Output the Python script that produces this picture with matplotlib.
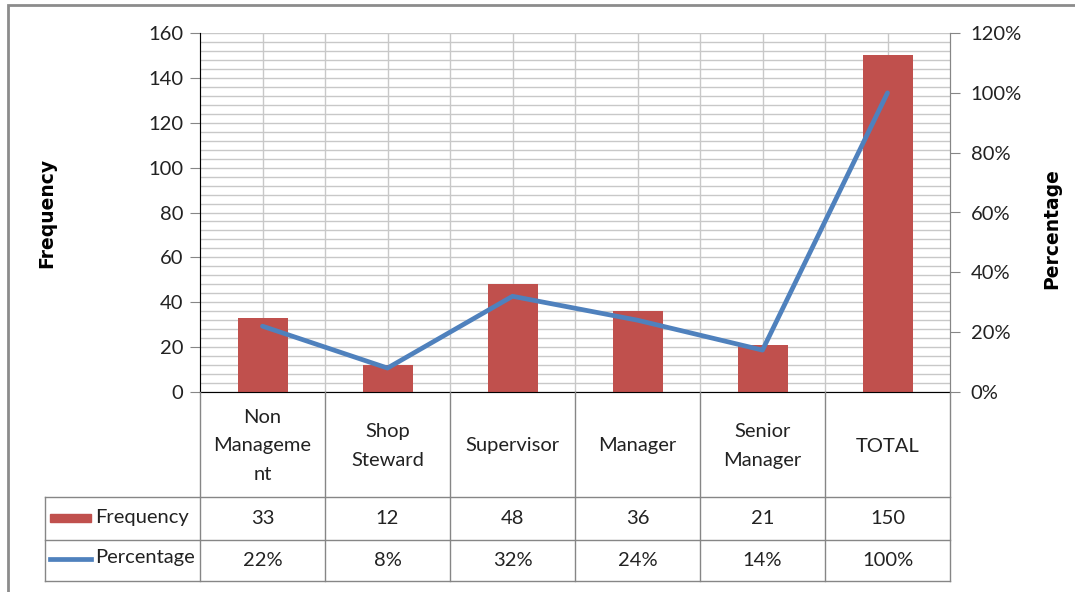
import matplotlib
matplotlib.use("Agg")
import matplotlib.pyplot as plt
from matplotlib.patches import Rectangle
from matplotlib.lines import Line2D
from matplotlib.ticker import MultipleLocator, FuncFormatter

# ── data ──────────────────────────────────────────────────────────────────────
categories = ["Non\nManageme\nnt", "Shop\nSteward", "Supervisor",
              "Manager", "Senior\nManager", "TOTAL"]
frequency = [33, 12, 48, 36, 21, 150]
percentage = [0.22, 0.08, 0.32, 0.24, 0.14, 1.00]

BAR_C = "#C0504D"
LINE_C = "#4F81BD"
GRID_C = "#C8C8C8"
AX_C = "#868686"
FONT = "Lato"
FS = 14.5

W, H = 1075, 592
fig = plt.figure(figsize=(W / 100, H / 100), dpi=100)

def box(l, t, r, b):
    # pixel box -> figure fraction [left, bottom, width, height]
    return [l / W, 1 - b / H, (r - l) / W, (b - t) / H]

# outer frame (only left/top visible in the crop)
fig.add_artist(Rectangle((8 / W, -0.1), 1.2, 1 - 5 / H + 0.1,
                         transform=fig.transFigure, fill=False,
                         edgecolor="#8C8C8C", linewidth=2))

# ── main chart ────────────────────────────────────────────────────────────────
ax = fig.add_axes(box(200, 33, 950, 392))
x = list(range(len(categories)))
ax.bar(x, frequency, width=0.4, color=BAR_C, zorder=3)
ax.set_xlim(-0.5, len(categories) - 0.5)
ax.set_ylim(0, 160)
ax.yaxis.set_major_locator(MultipleLocator(20))
ax.yaxis.set_minor_locator(MultipleLocator(4))
ax.grid(axis="y", which="both", color=GRID_C, linewidth=1, zorder=0)
for xv in [i * 0.5 - 0.5 for i in range(1, 2 * len(categories))]:
    ax.axvline(xv, color=GRID_C, linewidth=1, zorder=0)
ax.set_xticks([])
ax.tick_params(axis="y", which="major", length=7, color=AX_C, pad=5,
               labelsize=FS, labelcolor="#222222")
ax.tick_params(axis="y", which="minor", length=0)
for lab in ax.get_yticklabels():
    lab.set_fontfamily(FONT)
ax.spines["top"].set_visible(False)
for s in ["left", "bottom", "right"]:
    ax.spines[s].set_color(AX_C)
ax.set_ylabel("Frequency", fontsize=13.5, fontweight="bold",
              family="DejaVu Sans", labelpad=0)
ax.yaxis.set_label_coords(-144 / 750, 0.5)

ax2 = ax.twinx()
ax2.plot(x, percentage, color=LINE_C, linewidth=3.4, zorder=4,
         solid_capstyle="round")
ax2.set_ylim(0, 1.2)
ax2.yaxis.set_major_locator(MultipleLocator(0.2))
ax2.yaxis.set_major_formatter(FuncFormatter(lambda v, _: f"{v * 100:.0f}%"))
ax2.tick_params(axis="y", length=7, color=AX_C, pad=8, labelsize=FS,
                labelcolor="#222222")
for lab in ax2.get_yticklabels():
    lab.set_fontfamily(FONT)
ax2.spines["top"].set_visible(False)
ax2.spines["right"].set_color(AX_C)
ax2.set_ylabel("Percentage", fontsize=13.5, fontweight="bold",
               family="DejaVu Sans", rotation=90)
ax2.yaxis.set_label_coords(1 + 92 / 750, 0.455)

# ── data table under the chart ────────────────────────────────────────────────
tab = fig.add_axes(box(200, 392, 950, 581))
tab.set_xlim(-0.5, len(categories) - 0.5)
tab.set_ylim(189, 0)
tab.axis("off")
x_hdr = -0.5 - 155 / 125  # left edge of the row-header column
kw = dict(color=AX_C, linewidth=1, clip_on=False)
for xv in [i - 0.5 for i in range(len(categories) + 1)]:
    tab.add_line(Line2D([xv, xv], [0, 189], **kw))
tab.add_line(Line2D([x_hdr, x_hdr], [105, 189], **kw))
for yv in [105, 148, 189]:
    tab.add_line(Line2D([x_hdr, len(categories) - 0.5], [yv, yv], **kw))

tkw = dict(ha="center", va="center", fontsize=FS, family=FONT,
           color="#222222")
for i, c in enumerate(categories):
    tab.text(i, 54, c, linespacing=1.8, **tkw)
    tab.text(i, 127, f"{frequency[i]}", **tkw)
    tab.text(i, 168, f"{percentage[i] * 100:.0f}%", **tkw)

# legend keys in the row headers
tab.add_patch(Rectangle((-0.5 - 150 / 125, 122), 41 / 125, 8,
                        color=BAR_C, clip_on=False))
tab.add_line(Line2D([-0.5 - 150 / 125, -0.5 - 109 / 125], [167, 167],
                    color=LINE_C, linewidth=3.4, clip_on=False))
tab.text(-0.5 - 105 / 125, 126, "Frequency", ha="left", va="center",
         fontsize=FS, family=FONT, color="#222222")
tab.text(-0.5 - 105 / 125, 166, "Percentage", ha="left", va="center",
         fontsize=FS, family=FONT, color="#222222")

fig.savefig("out.png", dpi=100, facecolor="white")
